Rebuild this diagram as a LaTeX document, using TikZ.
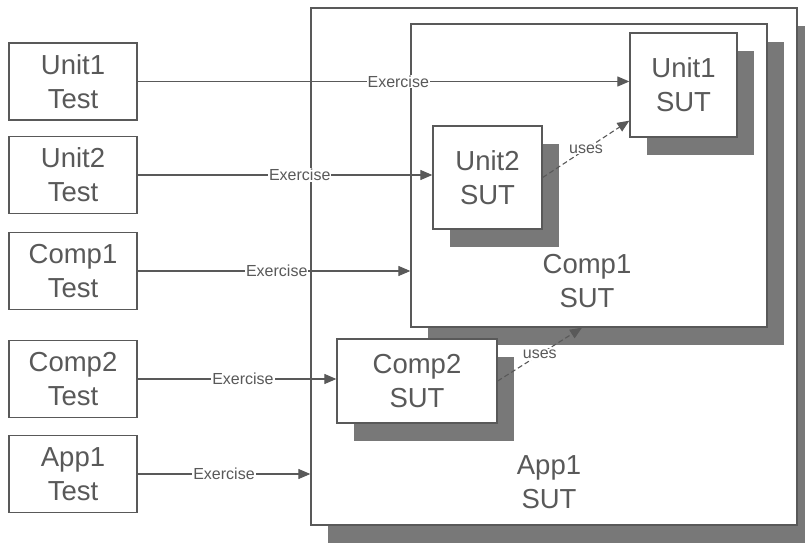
\documentclass[tikz,border=0pt]{standalone}
\usepackage{fontspec}
\setmainfont{Liberation Sans}
\usetikzlibrary{arrows.meta,shadows}
\definecolor{ink}{gray}{0.35}
\definecolor{shade}{gray}{0.47}

\begin{document}
\begin{tikzpicture}[x=1pt,y=-1pt,
  testbox/.style={draw=ink, line width=1.3pt, fill=white, minimum width=128pt, minimum height=77pt,
    align=center, text=ink, font=\fontsize{27.5}{34}\selectfont, inner sep=0pt},
  sutbox/.style={testbox, drop shadow={shadow xshift=17pt, shadow yshift=-18pt, fill=shade, opacity=1}},
  bigtext/.style={align=center, text=ink, font=\fontsize{27.5}{34}\selectfont},
  exercise/.style={draw=ink, line width=1.1pt, -{Triangle[length=12pt,width=10pt]}},
  uses/.style={exercise, dash pattern=on 5pt off 3pt},
  lbl/.style={fill=white, text=ink, font=\fontsize{16}{18}\selectfont, inner sep=1pt}]
\useasboundingbox (0,0) rectangle (805,545);
% tests
\node[testbox] (unit1test) at (73,81.5) {Unit1\\Test};
\node[testbox] (unit2test) at (73,175) {Unit2\\Test};
\node[testbox] (comp1test) at (73,271) {Comp1\\Test};
\node[testbox] (comp2test) at (73,379) {Comp2\\Test};
\node[testbox] (app1test) at (73,474) {App1\\Test};
% systems under test
\node[sutbox, minimum width=486pt, minimum height=517pt] (app1) at (554,266.5) {};
\node[bigtext] (app1txt) at (549,482) {App1\\SUT};
\node[sutbox, minimum width=356pt, minimum height=303pt] (comp1) at (589,175.5) {};
\node[bigtext] (comp1txt) at (587,281) {Comp1\\SUT};
\node[sutbox, minimum width=107pt, minimum height=104pt] (unit1) at (683.5,85) {Unit1\\SUT};
\node[sutbox, minimum width=109pt, minimum height=103pt] (unit2) at (487.5,177.5) {Unit2\\SUT};
\node[sutbox, minimum width=160pt, minimum height=84pt] (comp2) at (417,381) {Comp2\\SUT};
% exercise arrows
\draw[exercise] (unit1test.east) -- node[lbl, pos=0.53] {Exercise} (unit1test.east -| unit1.west);
\draw[exercise] (unit2test.east) -- node[lbl, pos=0.55] {Exercise} (unit2test.east -| unit2.west);
\draw[exercise] (comp1test.east) -- node[lbl, pos=0.51] {Exercise} (comp1test.east -| comp1.west);
\draw[exercise] (comp2test.east) -- node[lbl, pos=0.53] {Exercise} (comp2test.east -| comp2.west);
\draw[exercise] (app1test.east) -- node[lbl] {Exercise} (app1test.east -| app1.west);
% uses
\draw[uses] (unit2.east) -- node[lbl] {uses} ([yshift=17pt]unit1.south west);
\draw[uses] (comp2.east) -- node[lbl] {uses} ([xshift=-7pt]comp1.south);
\end{tikzpicture}
\end{document}
